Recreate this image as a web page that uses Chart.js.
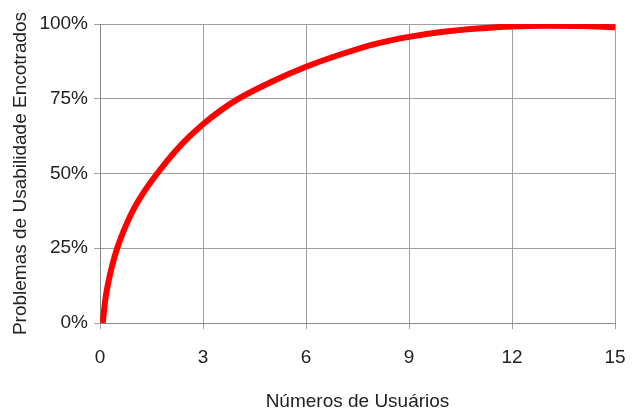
<!DOCTYPE html>
<html>
<head>
<meta charset="utf-8">
<script src="https://cdn.jsdelivr.net/npm/chart.js@4/dist/chart.umd.min.js"></script>
<style>
  html, body { margin: 0; padding: 0; background: #fff; }
</style>
</head>
<body>
<canvas id="usuarios" width="634" height="413"></canvas>
<script>
// numero de usuarios (x) e % de problemas encontrados (y)
var usuarios = [0.08, 0.15, 0.25, 0.35, 0.5, 0.75, 1, 1.35, 1.7, 2.2, 2.6, 3, 3.5, 4, 5, 6, 7, 8, 9, 10, 11, 12, 13, 14, 15];
var problemas = [0, 7.5, 14, 19, 25, 32.5, 38.5, 45, 50.5, 57.5, 62.3, 66.5, 71, 74.8, 80.7, 85.7, 89.8, 93.3, 95.7, 97.4, 98.5, 99.2, 99.4, 99.3, 98.9];
var xTicks = [0, 3, 6, 9, 12, 15];
var yTicks = [0, 25, 50, 75, 100];

var pontos = usuarios.map(function (u, i) {
  return { x: u, y: problemas[i] };
});

var fonte = { family: "Liberation Sans, Arial, sans-serif", size: 19 };

var ctx = document.getElementById("usuarios");

new Chart(ctx, {
  type: "line",
  data: {
    datasets: [
      {
        data: pontos,
        borderColor: "#ff0000",
        borderWidth: 6,
        pointRadius: 0,
        fill: false,
        cubicInterpolationMode: "monotone",
      },
    ],
  },
  options: {
    responsive: false,
    animation: false,
    devicePixelRatio: 1,
    layout: {
      padding: { top: 24, right: 19, bottom: 0, left: 0 },
    },
    plugins: {
      legend: { display: false },
      tooltip: { enabled: false },
    },
    scales: {
      x: {
        type: "linear",
        min: 0,
        max: 15,
        afterBuildTicks: function (scale) {
          scale.ticks = xTicks.map(function (v) { return { value: v }; });
        },
        afterFit: function (scale) {
          scale.height = 90;
          scale.paddingLeft = 0;
          scale.paddingRight = 0;
        },
        grid: { color: "#a0a0a0", tickLength: 6 },
        border: { color: "#888" },
        ticks: { color: "#222", font: fonte, padding: 17, maxRotation: 0 },
        title: {
          display: true,
          text: "Números de Usuários",
          color: "#222",
          font: fonte,
          padding: { top: 0, bottom: 0 },
        },
      },
      y: {
        min: 0,
        max: 100,
        afterBuildTicks: function (scale) {
          scale.ticks = yTicks.map(function (v) { return { value: v }; });
        },
        afterFit: function (scale) {
          scale.width = 100;
        },
        grid: { color: "#a0a0a0", tickLength: 6 },
        border: { color: "#888" },
        ticks: {
          color: "#222",
          font: fonte,
          padding: 6,
          callback: function (v) { return v + "%"; },
        },
        title: {
          display: true,
          text: "Problemas de Usabilidade Encotrados",
          color: "#222",
          font: fonte,
          padding: { top: 9, bottom: 0 },
        },
      },
    },
  },
});
</script>
</body>
</html>
